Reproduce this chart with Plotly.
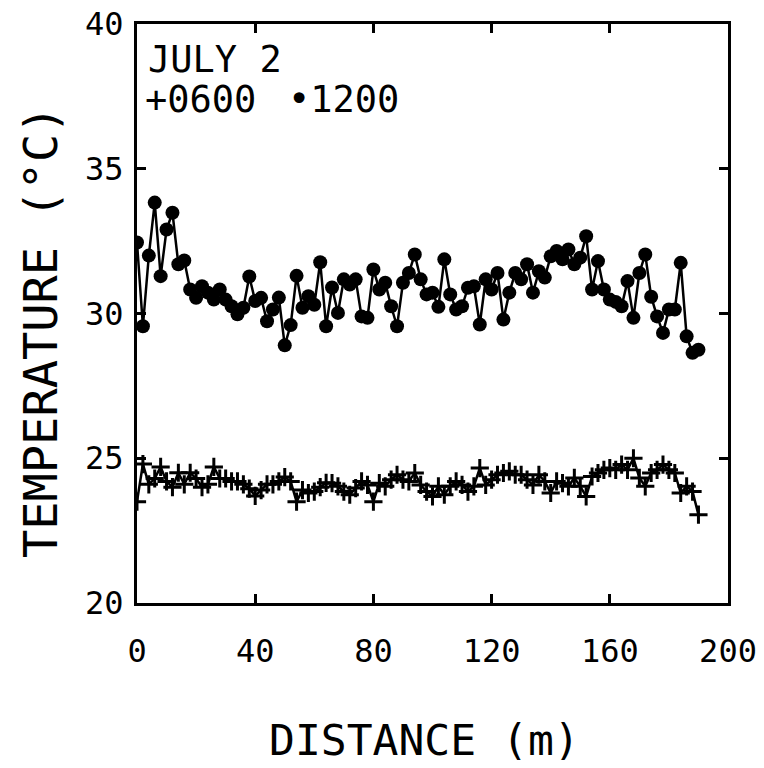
import plotly.graph_objects as go

distance = list(range(0, 192, 2))  # m, 96 stations

temp_1200 = [32.45, 29.56, 32.0, 33.83, 31.29, 32.9, 33.48, 31.7, 31.83, 30.83,
             30.54, 30.94, 30.72, 30.48, 30.83, 30.48, 30.25, 29.97, 30.2, 31.28,
             30.43, 30.54, 29.73, 30.14, 30.55, 28.9, 29.6, 31.3, 30.2, 30.6,
             30.3, 31.77, 29.56, 30.9, 30.02, 31.18, 31.0, 31.18, 29.9, 29.85,
             31.52, 30.83, 31.06, 30.25, 29.56, 31.06, 31.4, 32.04, 31.18, 30.66,
             30.72, 30.23, 31.87, 30.66, 30.14, 30.25, 30.89, 30.94, 29.62, 31.18,
             30.83, 31.4, 29.79, 30.72, 31.4, 31.18, 31.7, 30.72, 31.46, 31.24,
             31.98, 32.16, 31.87, 32.21, 31.7, 31.93, 32.67, 30.83, 31.81, 30.83,
             30.48, 30.4, 30.25, 31.12, 29.85, 31.4, 32.04, 30.58, 29.9, 29.33,
             30.14, 30.14, 31.75, 29.21, 28.64, 28.75]

temp_0600 = [23.5, 24.8, 24.1, 24.3, 24.7, 24.2, 24.0, 24.5, 24.1, 24.5,
             24.3, 24.0, 24.1, 24.7, 24.3, 24.3, 24.2, 24.2, 24.1, 23.95,
             23.7, 23.9, 24.1, 24.1, 24.2, 24.35, 24.2, 23.5, 23.9, 23.8,
             23.85, 24.0, 24.15, 24.14, 24.03, 23.85, 23.74, 23.97, 24.2, 24.08,
             23.5, 24.14, 24.03, 24.26, 24.43, 24.26, 24.2, 24.49, 24.08, 23.85,
             23.68, 24.03, 23.74, 24.03, 24.2, 24.08, 23.85, 24.03, 24.66, 24.08,
             24.26, 24.43, 24.49, 24.55, 24.43, 24.43, 24.26, 24.08, 24.43, 24.2,
             23.8, 24.2, 24.14, 24.03, 24.32, 24.03, 23.68, 24.37, 24.49, 24.6,
             24.66, 24.6, 24.78, 24.6, 25.0, 24.32, 24.03, 24.49, 24.6, 24.78,
             24.6, 24.49, 23.8, 24.03, 23.85, 23.05]

x_ticks = [0, 40, 80, 120, 160, 200]
y_ticks = [20, 25, 30, 35, 40]

FONT = "DejaVu Sans Mono"

fig = go.Figure()
fig.add_trace(go.Scatter(
    x=distance, y=temp_0600, mode="lines+markers", name="0600",
    line=dict(color="black", width=2.5),
    marker=dict(symbol="cross-thin", size=13, color="black",
                line=dict(color="black", width=3)),
))
fig.add_trace(go.Scatter(
    x=distance, y=temp_1200, mode="lines+markers", name="1200",
    line=dict(color="black", width=2.5),
    marker=dict(symbol="circle", size=14, color="black"),
))

axis_common = dict(
    showline=True, linecolor="black", linewidth=3, mirror="ticks",
    ticks="inside", ticklen=9, tickwidth=3, tickcolor="black",
    showgrid=False, zeroline=False, automargin=False,
    tickfont=dict(family=FONT, size=32, color="black"),
)

fig.update_layout(
    width=764, height=768,
    margin=dict(l=137, r=36, t=24, b=165),
    paper_bgcolor="white", plot_bgcolor="white",
    showlegend=False,
    xaxis=dict(range=[0, 200], tickvals=x_ticks,
               ticktext=[str(v) for v in x_ticks],
               ticklabelstandoff=18,
               **axis_common),
    yaxis=dict(range=[20, 40], tickvals=y_ticks,
               ticktext=[str(v) for v in y_ticks],
               ticklabelstandoff=4,
               **axis_common),
    annotations=[
        dict(text="DISTANCE (m)", xref="paper", yref="paper", x=0.486, y=-0.236,
             xanchor="center", yanchor="middle", showarrow=False,
             font=dict(family=FONT, size=43, color="black")),
        dict(text="TEMPERATURE (°C)", xref="paper", yref="paper", x=-0.164, y=0.468,
             xanchor="center", yanchor="middle", textangle=-90, showarrow=False,
             font=dict(family=FONT, size=47, color="black")),
        dict(text="JULY 2", xref="paper", yref="paper", x=0.015, y=0.979,
             xanchor="left", yanchor="top", showarrow=False,
             font=dict(family=FONT, size=37, color="black")),
        dict(text="+0600", xref="paper", yref="paper", x=0.01, y=0.910,
             xanchor="left", yanchor="top", showarrow=False,
             font=dict(family=FONT, size=37, color="black")),
        dict(text="•1200", xref="paper", yref="paper", x=0.252, y=0.910,
             xanchor="left", yanchor="top", showarrow=False,
             font=dict(family=FONT, size=37, color="black")),
    ],
)

fig.write_html("out.html")
